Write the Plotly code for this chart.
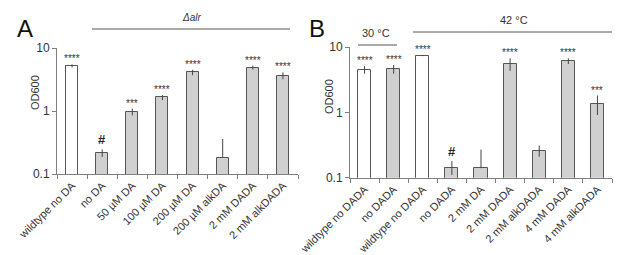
import math
import plotly.graph_objects as go

W, H = 617, 255

# ---------------- data ----------------
cats_a = ["wildtype no DA", "no DA", "50 µM DA", "100 µM DA", "200 µM DA",
          "200 µM alkDA", "2 mM DADA", "2 mM alkDADA"]
vals_a = [5.2, 0.216, 0.97, 1.64, 4.1, 0.18, 4.9, 3.65]
errp_a = [0.3, 0.03, 0.12, 0.15, 0.4, 0.18, 0.35, 0.45]
errm_a = [0.3, 0.03, 0.12, 0.15, 0.4, 0.0, 0.35, 0.45]
sig_a = ["****", "#", "***", "****", "****", "", "****", "****"]
white_a = [True, False, False, False, False, False, False, False]

cats_b = ["wildtype no DADA", "no DADA", "wildtype no DADA", "no DADA", "2 mM DA",
          "2 mM DADA", "2 mM alkDADA", "4 mM DADA", "4 mM alkDADA"]
vals_b = [4.5, 4.6, 7.4, 0.14, 0.14, 5.5, 0.26, 6.1, 1.36]
errp_b = [0.6, 0.7, 0.15, 0.04, 0.13, 1.2, 0.05, 0.6, 0.45]
errm_b = [0.6, 0.7, 0.15, 0.03, 0.0, 1.2, 0.05, 0.6, 0.45]
sig_b = ["****", "****", "****", "#", "", "****", "", "****", "***"]
white_b = [True, False, True, False, False, False, False, False, False]

FONT = "Liberation Sans, Arial, sans-serif"
EDGE = "#555555"
GRAY = "#d0d0d0"
AXC = "#7f7f7f"
TXT = "#333333"


def px(x):
    return x / W


def py(y):
    return 1 - y / H


fig = go.Figure()


def add_panel(cats, vals, errp, errm, white, xa, ya, width):
    xs = list(range(len(cats)))
    fig.add_trace(go.Bar(
        x=xs, y=vals, width=width,
        marker=dict(color=["white" if w else GRAY for w in white],
                    line=dict(color=EDGE, width=1)),
        error_y=dict(type="data", array=errp, arrayminus=errm, color="#444444",
                     thickness=1, width=0, visible=True),
        xaxis=xa, yaxis=ya, showlegend=False, hoverinfo="skip"))


add_panel(cats_a, vals_a, errp_a, errm_a, white_a, "x", "y", 0.4)
add_panel(cats_b, vals_b, errp_b, errm_b, white_b, "x2", "y2", 0.45)

annotations = []


def add_sig(sig, vals, errp, xref, yref):
    for i, s in enumerate(sig):
        if not s:
            continue
        top = vals[i] + errp[i]
        if s == "#":
            annotations.append(dict(x=i, y=math.log10(top), xref=xref, yref=yref,
                                    text="<b>#</b>", showarrow=False, xanchor="center",
                                    yanchor="bottom", yshift=0,
                                    font=dict(size=13, color="#222222", family=FONT)))
        else:
            annotations.append(dict(x=i, y=math.log10(top), xref=xref, yref=yref,
                                    text=s, showarrow=False, xanchor="center",
                                    yanchor="bottom", yshift=-2,
                                    font=dict(size=10, color="#333333", family=FONT)))


add_sig(sig_a, vals_a, errp_a, "x", "y")
add_sig(sig_b, vals_b, errp_b, "x2", "y2")

xaxis_common = dict(showline=True, linecolor=AXC, linewidth=1, showgrid=False, zeroline=False,
                    ticks="", tickangle=-45, tickfont=dict(size=11, color=TXT, family=FONT),
                    tickmode="array", fixedrange=True, automargin=False)
yaxis_common = dict(type="log", range=[-1, 1], showline=True, linecolor=AXC, linewidth=1,
                    showgrid=False, zeroline=False, ticks="outside", ticklen=4, tickcolor=AXC,
                    tickvals=[0.1, 1, 10], ticktext=["0.1", "1", "10"], automargin=False,
                    fixedrange=True, tickfont=dict(size=12, color=TXT, family=FONT))

fig.update_layout(
    width=W, height=H, margin=dict(l=0, r=0, t=0, b=0, autoexpand=False),
    paper_bgcolor="white", plot_bgcolor="white", bargap=0,
    xaxis=dict(xaxis_common, domain=[px(57), px(298)], anchor="y",
               range=[-0.5, len(cats_a) - 0.5],
               tickvals=list(range(len(cats_a))), ticktext=cats_a,
               minor=dict(tickmode="array", tickvals=[i + 0.5 for i in range(-1, len(cats_a))],
                          ticks="outside", ticklen=4, tickcolor=AXC, showgrid=False)),
    yaxis=dict(yaxis_common, domain=[py(174), py(48)], anchor="x"),
    xaxis2=dict(xaxis_common, domain=[px(350), px(612)], anchor="y2",
                range=[-0.5, len(cats_b) - 0.5],
                tickvals=list(range(len(cats_b))), ticktext=cats_b,
                minor=dict(tickmode="array", tickvals=[i + 0.5 for i in range(-1, len(cats_b))],
                           ticks="outside", ticklen=4, tickcolor=AXC, showgrid=False)),
    yaxis2=dict(yaxis_common, domain=[py(177.7), py(47)], anchor="x2"),
)


def label(x, y, text, size, color=TXT, angle=0):
    return dict(x=px(x), y=py(y), xref="paper", yref="paper", text=text, showarrow=False,
                xanchor="center", yanchor="middle", textangle=angle,
                font=dict(size=size, color=color, family=FONT))


# panel letters, axis titles, group labels
annotations += [
    label(25, 28, "A", 24, "#111111"),
    label(317, 28, "B", 24, "#111111"),
    label(35, 93, "OD600", 11, angle=-90),
    label(329, 97, "OD600", 11, angle=-90),
    label(191, 18, "<i>Δalr</i>", 10),
    label(376, 33, "30 °C", 11),
    label(514, 20, "42 °C", 11),
]
fig.update_layout(annotations=annotations)

shapes = [
    dict(type="line", xref="paper", yref="paper", x0=px(92), x1=px(290), y0=py(29), y1=py(29),
         line=dict(color="#555555", width=1)),
    dict(type="line", xref="paper", yref="paper", x0=px(358), x1=px(397), y0=py(45), y1=py(45),
         line=dict(color="#555555", width=1)),
    dict(type="line", xref="paper", yref="paper", x0=px(413), x1=px(612), y0=py(32), y1=py(32),
         line=dict(color="#555555", width=1)),
]
fig.update_layout(shapes=shapes)

fig.write_html("out.html", config={"displayModeBar": False},
               post_script="document.body.style.margin='0px';")
